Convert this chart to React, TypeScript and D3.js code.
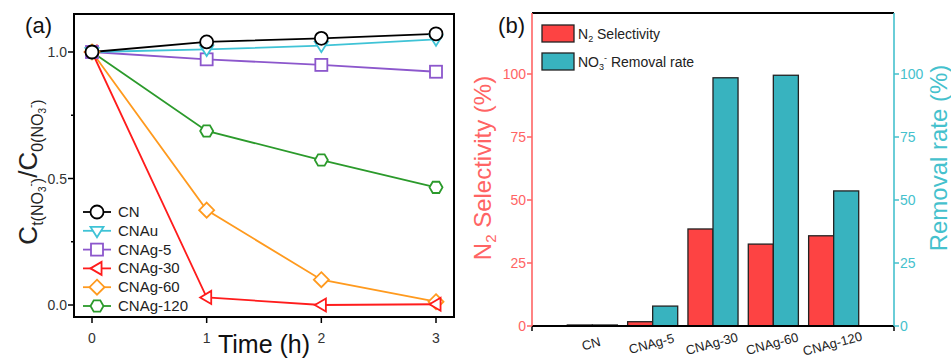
import React from 'react';
import * as d3 from 'd3';

// panel (a): normalised nitrate concentration vs time
const times = [0, 1, 2, 3];
const seriesNames = ['CN', 'CNAu', 'CNAg-5', 'CNAg-30', 'CNAg-60', 'CNAg-120'];
const cnValues = [1.0, 1.04, 1.054, 1.072];
const cnauValues = [1.0, 1.01, 1.025, 1.05];
const cnag5Values = [1.0, 0.971, 0.949, 0.922];
const cnag30Values = [1.0, 0.03, 0.0, 0.003];
const cnag60Values = [1.0, 0.375, 0.1, 0.013];
const cnag120Values = [1.0, 0.688, 0.573, 0.465];
const yTicksA = [0, 0.5, 1.0];
const yMinorA = [0.25, 0.75];

// panel (b): selectivity and removal rate
const categories = ['CN', 'CNAg-5', 'CNAg-30', 'CNAg-60', 'CNAg-120'];
const selectivity = [0.4, 1.7, 38.5, 32.5, 35.8];
const removal = [0.4, 7.9, 98.5, 99.5, 53.6];
const yTicksB = [0, 25, 50, 75, 100];

const FONT = "'Liberation Sans', Arial, Helvetica, sans-serif";
const RED_AXIS = '#ff6464';
const RED_BAR = '#fd4343';
const CYAN_AXIS = '#45c1cd';
const CYAN_BAR = '#38b3bf';

type Shape = 'circle' | 'triDown' | 'square' | 'triLeft' | 'diamond' | 'hexagon';

const seriesStyle: { color: string; shape: Shape; values: number[] }[] = [
  { color: '#000000', shape: 'circle', values: cnValues },
  { color: '#3fc3d6', shape: 'triDown', values: cnauValues },
  { color: '#8c57cc', shape: 'square', values: cnag5Values },
  { color: '#ff1c1c', shape: 'triLeft', values: cnag30Values },
  { color: '#ff9a1e', shape: 'diamond', values: cnag60Values },
  { color: '#2b9a2b', shape: 'hexagon', values: cnag120Values },
];

const Marker = ({ shape, x, y, color }: { shape: Shape; x: number; y: number; color: string }) => {
  const r = 6.5;
  const common = { fill: '#fff', stroke: color, strokeWidth: 1.8 };
  if (shape === 'circle') return <circle cx={x} cy={y} r={r} {...common} />;
  if (shape === 'square') return <rect x={x - r + 0.5} y={y - r + 0.5} width={2 * r - 1} height={2 * r - 1} {...common} />;
  let pts: [number, number][] = [];
  if (shape === 'triDown') pts = [[-r, -r * 0.6], [r, -r * 0.6], [0, r]];
  if (shape === 'triLeft') pts = [[-r, 0], [r * 0.7, -r], [r * 0.7, r]];
  if (shape === 'diamond') pts = [[0, -r - 1], [r + 1, 0], [0, r + 1], [-r - 1, 0]];
  if (shape === 'hexagon') pts = d3.range(6).map(i => [r * Math.cos((i * Math.PI) / 3), r * Math.sin((i * Math.PI) / 3)] as [number, number]);
  return <polygon points={pts.map(p => `${x + p[0]},${y + p[1]}`).join(' ')} {...common} />;
};

const PanelA = () => {
  const left = 74, right = 454, top = 14, bottom = 317;
  const x = d3.scaleLinear().domain([0, 3]).range([92, 436]);
  const y = d3.scaleLinear().domain([0, 1]).range([305, 52]);
  const line = d3.line<[number, number]>().x(d => x(d[0])).y(d => y(d[1]));
  const order = [5, 4, 3, 2, 1, 0];

  return (
    <g fontFamily={FONT}>
      {/* lines first, then markers; CN drawn last so it sits on top */}
      {order.map(i => {
        const s = seriesStyle[i];
        const pts = times.map((t, k) => [t, s.values[k]] as [number, number]);
        return <path key={seriesNames[i]} d={line(pts) || ''} fill="none" stroke={s.color} strokeWidth={1.8} />;
      })}
      {order.map(i => {
        const s = seriesStyle[i];
        return (
          <g key={'m' + seriesNames[i]}>
            {times.map((t, k) => (
              <Marker key={k} shape={s.shape} x={x(t)} y={y(s.values[k])} color={s.color} />
            ))}
          </g>
        );
      })}

      <rect x={left} y={top} width={right - left} height={bottom - top} fill="none" stroke="#000" strokeWidth={2} />

      {yTicksA.map(t => (
        <g key={t}>
          <line x1={left - 6} x2={left} y1={y(t)} y2={y(t)} stroke="#000" strokeWidth={1.5} />
          <text x={left - 7} y={y(t) + 5} textAnchor="end" fontSize={14} fill="#333">{t.toFixed(1)}</text>
        </g>
      ))}
      {yMinorA.map(t => (
        <line key={t} x1={left - 3} x2={left} y1={y(t)} y2={y(t)} stroke="#000" strokeWidth={1.5} />
      ))}
      {times.map(t => (
        <g key={t}>
          <line x1={x(t)} x2={x(t)} y1={bottom} y2={bottom + 6} stroke="#000" strokeWidth={1.5} />
          <text x={x(t)} y={bottom + 26} textAnchor="middle" fontSize={14} fill="#333">{t}</text>
        </g>
      ))}

      <text x={264} y={353} textAnchor="middle" fontSize={25} fill="#111">Time (h)</text>
      <text x={52} y={33} textAnchor="end" fontSize={22} fill="#111">(a)</text>

      <text transform="translate(37,172) rotate(-90)" textAnchor="middle" fontSize={26} fill="#222">
        C<tspan fontSize={16} dy={6}>t(NO</tspan>
        <tspan fontSize={10} dy={3}>3</tspan>
        <tspan fontSize={10} dy={-12}>-</tspan>
        <tspan fontSize={16} dy={9}>)</tspan>
        <tspan fontSize={26} dy={-6}>/C</tspan>
        <tspan fontSize={16} dy={6}>0(NO</tspan>
        <tspan fontSize={10} dy={3}>3</tspan>
        <tspan fontSize={10} dy={-12}>-</tspan>
        <tspan fontSize={16} dy={9}>)</tspan>
      </text>

      {/* legend */}
      {seriesStyle.map((s, i) => {
        const ly = 212 + i * 18.8;
        return (
          <g key={'lg' + i}>
            <line x1={83} x2={111} y1={ly} y2={ly} stroke={s.color} strokeWidth={1.8} />
            <Marker shape={s.shape} x={97} y={ly} color={s.color} />
            <text x={118} y={ly + 5} fontSize={15} fill="#222">{seriesNames[i]}</text>
          </g>
        );
      })}
    </g>
  );
};

const PanelB = () => {
  const left = 532, right = 894, top = 13, bottom = 326;
  const x = d3.scaleLinear().domain([0, categories.length + 1]).range([left, right]);
  const y = d3.scaleLinear().domain([0, 100]).range([bottom, 74]);
  const bw = x(0.415) - x(0);

  return (
    <g fontFamily={FONT}>
      {categories.map((c, i) => {
        const cx = x(i + 1);
        return (
          <g key={c}>
            <rect x={cx - bw} y={y(selectivity[i])} width={bw} height={bottom - y(selectivity[i])} fill={RED_BAR} stroke="#222" strokeWidth={1.3} />
            <rect x={cx} y={y(removal[i])} width={bw} height={bottom - y(removal[i])} fill={CYAN_BAR} stroke="#222" strokeWidth={1.3} />
            <text transform={`translate(${cx},${bottom + 22}) rotate(-15)`} textAnchor="middle" fontSize={13} fill="#222">{c}</text>
          </g>
        );
      })}

      <line x1={left} x2={right} y1={top} y2={top} stroke="#000" strokeWidth={2} />
      <line x1={left} x2={right} y1={bottom} y2={bottom} stroke="#000" strokeWidth={2} />
      <line x1={left} x2={left} y1={bottom} y2={bottom + 5} stroke="#000" strokeWidth={1.5} />
      <line x1={right} x2={right} y1={bottom} y2={bottom + 5} stroke="#000" strokeWidth={1.5} />
      <line x1={left} x2={left} y1={top} y2={bottom} stroke={RED_AXIS} strokeWidth={1.6} />
      <line x1={right} x2={right} y1={top} y2={bottom} stroke={CYAN_AXIS} strokeWidth={1.6} />

      {yTicksB.map(t => (
        <g key={t}>
          <line x1={left - 5} x2={left} y1={y(t)} y2={y(t)} stroke={RED_AXIS} strokeWidth={1.5} />
          <text x={left - 6} y={y(t) + 5} textAnchor="end" fontSize={14} fill={RED_AXIS}>{t}</text>
          <line x1={right} x2={right + 5} y1={y(t)} y2={y(t)} stroke={CYAN_AXIS} strokeWidth={1.5} />
          <text x={right + 6} y={y(t) + 5} textAnchor="start" fontSize={14} fill={CYAN_AXIS}>{t}</text>
        </g>
      ))}

      <text transform="translate(491,168) rotate(-90)" textAnchor="middle" fontSize={24} fill={RED_AXIS}>
        N<tspan fontSize={15} dy={5}>2</tspan><tspan dy={-5}> Selectivity (%)</tspan>
      </text>
      <text transform="translate(947,158) rotate(-90)" textAnchor="middle" fontSize={24} fill={CYAN_AXIS}>Removal rate (%)</text>
      <text x={525} y={33} textAnchor="end" fontSize={22} fill="#111">(b)</text>

      <rect x={542} y={25} width={32} height={17} fill={RED_BAR} stroke="#222" strokeWidth={1.3} />
      <text x={578} y={39} fontSize={14} fill="#222">N<tspan fontSize={9} dy={3}>2</tspan><tspan dy={-3}> Selectivity</tspan></text>
      <rect x={542} y={53} width={32} height={17} fill={CYAN_BAR} stroke="#222" strokeWidth={1.3} />
      <text x={578} y={67} fontSize={14} fill="#222">NO<tspan fontSize={9} dy={3}>3</tspan><tspan fontSize={9} dy={-9}>-</tspan><tspan dy={6}> Removal rate</tspan></text>
    </g>
  );
};

export default function App() {
  return (
    <svg width={951} height={360} style={{ position: 'absolute', left: 0, top: 0, background: '#fff' }}>
      <PanelA />
      <PanelB />
    </svg>
  );
}
